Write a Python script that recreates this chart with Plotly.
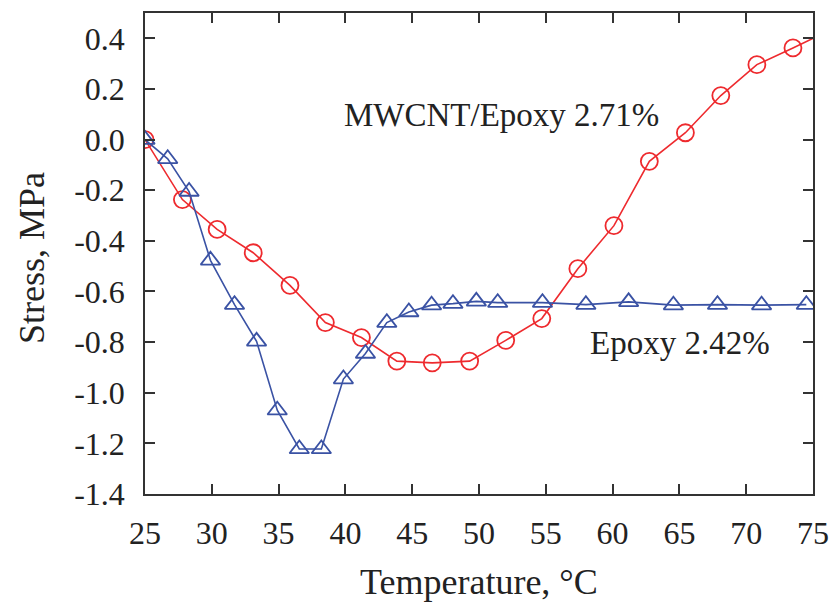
import plotly.graph_objects as go

# MWCNT/Epoxy 2.71% (red circles)
mw_temp = [25.0, 27.8, 30.4, 33.1, 35.85, 38.5, 41.2, 43.85, 46.5, 49.3, 52.0, 54.7,
           57.4, 60.1, 62.75, 65.45, 68.1, 70.8, 73.5, 76.2]
mw_stress = [0.0, -0.237, -0.355, -0.447, -0.576, -0.723, -0.782, -0.875, -0.882, -0.875,
             -0.793, -0.707, -0.51, -0.34, -0.086, 0.027, 0.174, 0.296, 0.362, 0.43]

# Epoxy 2.42% (blue triangles)
ep_temp = [25.0, 26.7, 28.3, 29.9, 31.7, 33.35, 34.9, 36.55, 38.2, 39.85, 41.5, 43.1,
           44.75, 46.45, 48.05, 49.8, 51.4, 54.75, 58.0, 61.2, 64.55, 67.85, 71.15, 74.5]
ep_stress = [0.0, -0.076, -0.205, -0.477, -0.652, -0.797, -1.069, -1.222, -1.222, -0.946,
             -0.845, -0.723, -0.681, -0.654, -0.648, -0.639, -0.644, -0.644, -0.652,
             -0.641, -0.654, -0.652, -0.654, -0.652]

x_ticks = [25, 30, 35, 40, 45, 50, 55, 60, 65, 70, 75]
y_ticks = [0.4, 0.2, 0.0, -0.2, -0.4, -0.6, -0.8, -1.0, -1.2, -1.4]
y_tick_text = ["0.4", "0.2", "0.0", "-0.2", "-0.4", "-0.6", "-0.8", "-1.0", "-1.2", "-1.4"]

RED = "#ee2a2e"
BLUE = "#3a52a4"
TXT = "#222222"
FONT = "Liberation Serif"

fig = go.Figure()
fig.add_trace(go.Scatter(
    x=mw_temp, y=mw_stress, mode="lines+markers", name="MWCNT/Epoxy 2.71%",
    line=dict(color=RED, width=1.6),
    marker=dict(symbol="circle-open", size=17, color=RED, line=dict(width=1.8, color=RED)),
))
fig.add_trace(go.Scatter(
    x=ep_temp, y=ep_stress, mode="lines+markers", name="Epoxy 2.42%",
    line=dict(color=BLUE, width=1.6),
    marker=dict(symbol="triangle-up-open", size=17, color=BLUE, line=dict(width=1.8, color=BLUE)),
))

axis_common = dict(
    showline=True, linecolor="#333333", linewidth=1.5, mirror="ticks",
    ticks="inside", tickcolor="#333333", tickwidth=1.5, ticklen=10,
    showgrid=False, zeroline=False, automargin=False,
    tickfont=dict(family=FONT, size=32, color=TXT),
)

fig.update_xaxes(
    range=[25, 75], tickvals=x_ticks, ticktext=[str(v) for v in x_ticks],
    ticklabelstandoff=10,
    **axis_common,
)
fig.update_yaxes(
    range=[-1.4, 0.5], tickvals=y_ticks, ticktext=y_tick_text,
    ticklabelstandoff=12,
    **axis_common,
)

L, R, T, B = 145, 17, 13, 116
pw, ph = 830 - L - R, 610 - T - B


def px2paper(px, py):
    return (px - L) / pw, 1 - (py - T) / ph


for text, (px, py), size, angle in [
    ("MWCNT/Epoxy 2.71%", (501, 115), 33, 0),
    ("Epoxy 2.42%", (680, 343), 33, 0),
    ("Temperature, °C", (479, 582), 36, 0),
    ("Stress, MPa", (32, 258), 36, -90),
]:
    ax_, ay_ = px2paper(px, py)
    fig.add_annotation(x=ax_, y=ay_, xref="paper", yref="paper", text=text,
                       showarrow=False, textangle=angle,
                       xanchor="center", yanchor="middle",
                       font=dict(family=FONT, size=size, color=TXT))

fig.update_layout(
    width=830, height=610,
    margin=dict(l=L, r=R, t=T, b=B, autoexpand=False),
    paper_bgcolor="white", plot_bgcolor="white",
    showlegend=False,
)

fig.write_html("out.html", config={"displayModeBar": False},
               post_script="document.body.style.margin='0px';")
